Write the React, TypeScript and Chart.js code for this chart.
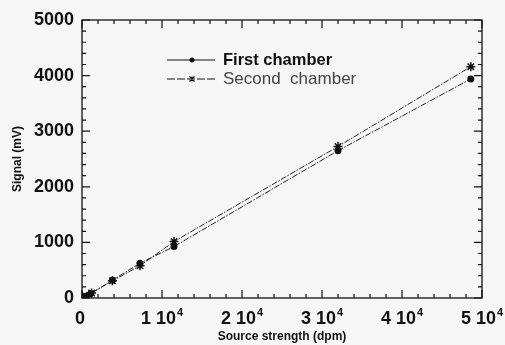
import React, { useEffect, useRef } from "react";
import { Chart, registerables } from "chart.js";

Chart.register(...registerables);

const xFirst = [100, 500, 1100, 3800, 7250, 11500, 32000, 48600];
const yFirst = [20, 30, 80, 320, 625, 925, 2650, 3940];
const xSecond = [100, 600, 1200, 3800, 7250, 11500, 32000, 48600];
const ySecond = [20, 25, 90, 310, 580, 1015, 2725, 4160];
const labels = ["First chamber", "Second  chamber"];
const xTickValues = [0, 10000, 20000, 30000, 40000, 50000];
const yTickValues = [0, 1000, 2000, 3000, 4000, 5000];

const BG = "#f6f6f6";
const FONT = "'Liberation Sans', Arial, Helvetica, sans-serif";

const framePlugin = {
  id: "frameTicks",
  beforeDraw(chart: any) {
    const { ctx, width, height } = chart;
    ctx.save();
    ctx.fillStyle = BG;
    ctx.fillRect(0, 0, width, height);
    ctx.restore();
  },
  afterDraw(chart: any) {
    const { ctx, chartArea } = chart;
    const { left, right, top, bottom } = chartArea;
    const xs = chart.scales.x;
    const ys = chart.scales.y;
    ctx.save();
    ctx.strokeStyle = "#111";
    ctx.lineWidth = 1.3;
    ctx.strokeRect(left, top, right - left, bottom - top);
    ctx.lineWidth = 1.2;
    ctx.beginPath();
    for (let v = 0; v <= 50000; v += 2000) {
      const px = xs.getPixelForValue(v);
      const len = v % 10000 === 0 ? 8 : 4;
      ctx.moveTo(px, bottom);
      ctx.lineTo(px, bottom - len);
      ctx.moveTo(px, top);
      ctx.lineTo(px, top + len);
    }
    for (let v = 0; v <= 5000; v += 200) {
      const py = ys.getPixelForValue(v);
      const len = v % 1000 === 0 ? 8 : 4;
      ctx.moveTo(left, py);
      ctx.lineTo(left + len, py);
      ctx.moveTo(right, py);
      ctx.lineTo(right - len, py);
    }
    ctx.stroke();

    // x tick labels with superscript exponent
    ctx.fillStyle = "#111";
    ctx.textBaseline = "alphabetic";
    const baseY = bottom + 26;
    xTickValues.forEach((v) => {
      const px = xs.getPixelForValue(v);
      if (v === 0) {
        ctx.font = `bold 18px ${FONT}`;
        ctx.textAlign = "center";
        ctx.fillText("0", px - 2, baseY);
        return;
      }
      const main = `${v / 10000} 10`;
      const sup = "4";
      ctx.font = `bold 18px ${FONT}`;
      const wMain = ctx.measureText(main).width;
      ctx.font = `bold 11px ${FONT}`;
      const wSup = ctx.measureText(sup).width;
      const x0 = px - (wMain + wSup + 1) / 2;
      ctx.textAlign = "left";
      ctx.font = `bold 18px ${FONT}`;
      ctx.fillText(main, x0, baseY);
      ctx.font = `bold 11px ${FONT}`;
      ctx.fillText(sup, x0 + wMain + 1, baseY - 8);
    });

    // legend
    const lx0 = left + 85;
    const lx1 = left + 133;
    const rows = [
      { y: top + 40, font: `bold 16.5px ${FONT}`, color: "#111", style: "circle" },
      { y: top + 59, font: `17px ${FONT}`, color: "#444", style: "star" },
    ];
    rows.forEach((r, i) => {
      ctx.strokeStyle = "#111";
      ctx.lineWidth = 1;
      ctx.setLineDash(i === 0 ? [] : [8, 2]);
      ctx.beginPath();
      ctx.moveTo(lx0, r.y);
      ctx.lineTo(lx1, r.y);
      ctx.stroke();
      ctx.setLineDash([]);
      const mx = (lx0 + lx1) / 2 + 1;
      if (r.style === "circle") {
        ctx.fillStyle = "#111";
        ctx.beginPath();
        ctx.arc(mx, r.y, 2.5, 0, Math.PI * 2);
        ctx.fill();
      } else {
        ctx.lineWidth = 1.2;
        ctx.beginPath();
        const s = 2.5;
        ctx.moveTo(mx - s, r.y - s); ctx.lineTo(mx + s, r.y + s);
        ctx.moveTo(mx - s, r.y + s); ctx.lineTo(mx + s, r.y - s);
        ctx.moveTo(mx, r.y - s); ctx.lineTo(mx, r.y + s);
        ctx.stroke();
      }
      ctx.font = r.font;
      ctx.fillStyle = r.color;
      ctx.textBaseline = "middle";
      ctx.textAlign = "left";
      ctx.fillText(labels[i], lx1 + 8, r.y);
    });
    ctx.restore();
  },
};

export default function App() {
  const ref = useRef<HTMLCanvasElement | null>(null);
  useEffect(() => {
    if (!ref.current) return;
    const chart = new Chart(ref.current, {
      type: "scatter",
      data: {
        datasets: [
          {
            label: labels[0],
            data: xFirst.map((x, i) => ({ x, y: yFirst[i] })),
            showLine: true,
            borderColor: "#222",
            borderWidth: 1,
            borderDash: [6, 1.5, 1.5, 1.5],
            pointStyle: "circle",
            pointRadius: 3.5,
            pointBackgroundColor: "#111",
            pointBorderColor: "#111",
            pointBorderWidth: 0,
          },
          {
            label: labels[1],
            data: xSecond.map((x, i) => ({ x, y: ySecond[i] })),
            showLine: true,
            borderColor: "#222",
            borderWidth: 1,
            borderDash: [6, 1.5, 1.5, 1.5],
            pointStyle: "star",
            pointRadius: 4.5,
            pointBackgroundColor: "#111",
            pointBorderColor: "#111",
            pointBorderWidth: 1.5,
          },
        ],
      },
      options: {
        responsive: false,
        animation: false,
        layout: { padding: { left: 0, right: 23, top: 20, bottom: 0 } },
        plugins: { legend: { display: false }, tooltip: { enabled: false } },
        scales: {
          x: {
            type: "linear",
            min: 0,
            max: 50000,
            afterBuildTicks: (s: any) => {
              s.ticks = xTickValues.map((v) => ({ value: v }));
            },
            afterFit: (s: any) => {
              s.height = 47;
              s.paddingLeft = 0;
              s.paddingRight = 0;
            },
            grid: { display: false, drawTicks: false },
            border: { display: false },
            ticks: { display: false },
            title: {
              display: true,
              text: "Source strength (dpm)",
              color: "#111",
              padding: { top: 0, bottom: 1 },
              font: { family: FONT, size: 12, weight: "bold" },
            },
          },
          y: {
            type: "linear",
            min: 0,
            max: 5000,
            afterBuildTicks: (s: any) => {
              s.ticks = yTickValues.map((v) => ({ value: v }));
            },
            afterFit: (s: any) => {
              s.width = 82;
              s.paddingTop = 0;
              s.paddingBottom = 0;
            },
            grid: { display: false, drawTicks: false },
            border: { display: false },
            ticks: {
              padding: 8,
              autoSkip: false,
              color: "#111",
              font: { family: FONT, size: 18, weight: "bold" },
              callback: (v: any) => String(v),
            },
            title: {
              display: true,
              text: "Signal (mV)",
              color: "#111",
              padding: { top: 10, bottom: 0 },
              font: { family: FONT, size: 12, weight: "bold" },
            },
          },
        },
      },
      plugins: [framePlugin],
    } as any);
    return () => chart.destroy();
  }, []);
  return (
    <div style={{ position: "fixed", left: 0, top: 0, width: 505, height: 345, background: BG }}>
      <canvas ref={ref} width={505} height={345} style={{ display: "block" }} />
    </div>
  );
}
